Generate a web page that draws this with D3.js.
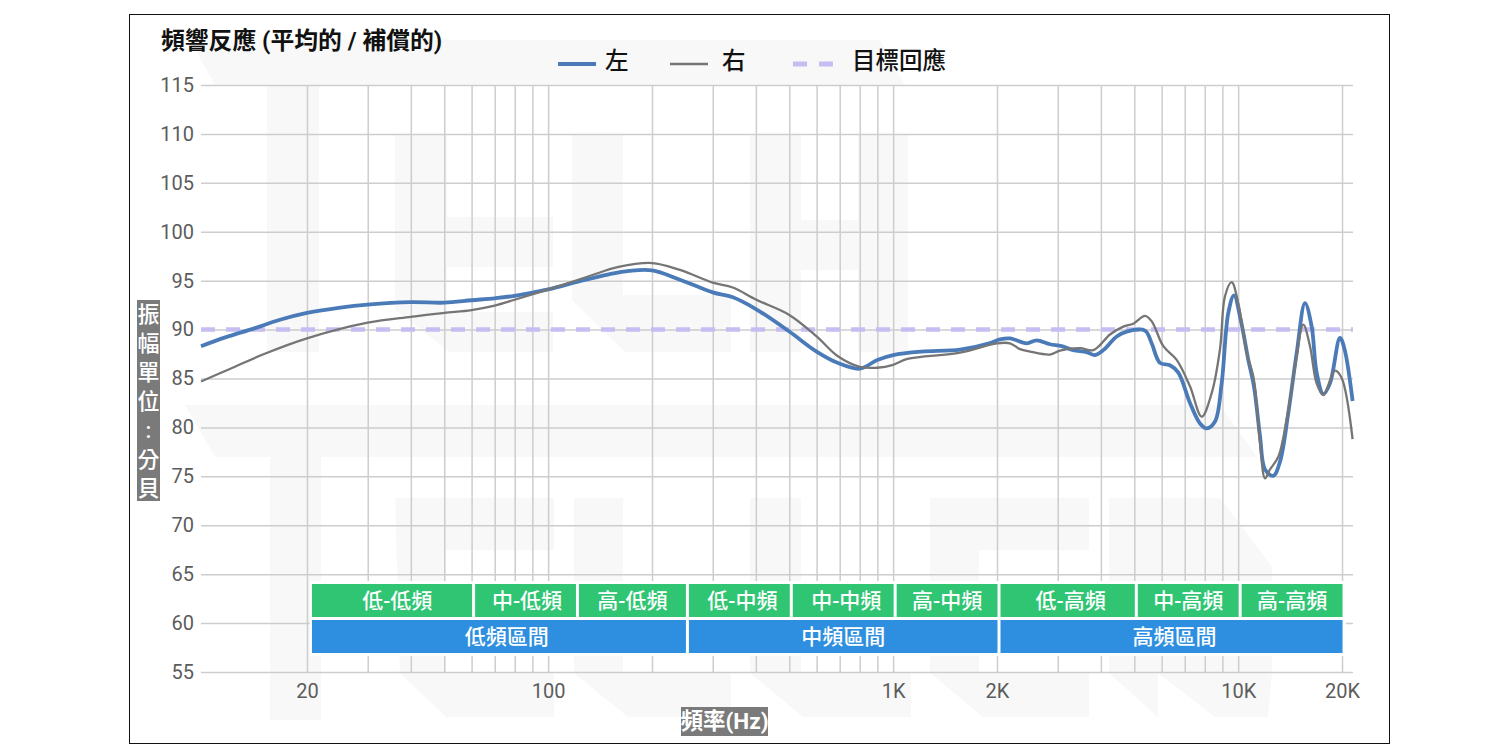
<!DOCTYPE html>
<html>
<head>
<meta charset="utf-8">
<script src="https://cdn.jsdelivr.net/npm/d3@7"></script>
<style>
  html, body { margin: 0; background: #fff; }
  svg { display: block; }
  text { font-family: Roboto, "Noto Sans CJK TC", sans-serif; }
  .axis path { display: none; }
  .axis line { stroke: #cdcdcd; stroke-width: 1.5; }
  .axis text { fill: #5c5c5c; font-size: 20px; }
</style>
</head>
<body>
<script>
// values
const leftFreq = [9.86, 11.6, 14, 16.7, 20, 25, 30, 40, 50, 60, 70, 80, 100, 125, 150, 172, 200, 241, 300, 343, 400, 500, 600, 690, 800, 900, 1000, 1206, 1563, 1900,
  2040, 2181, 2437, 2605, 2848, 3079, 3327, 3638, 3846, 4066, 4445, 4752, 5369, 5614, 5934, 6345, 6708, 7250, 7752, 8103, 8568, 8956, 9364, 9727, 10170, 10700, 11112, 11571, 11963, 12646, 13221, 13976, 14778, 15620, 16332, 16883, 17652, 18456, 19731, 20400, 21460];
const leftDb = [88.3, 89.2, 90.1, 91.0, 91.7, 92.25, 92.55, 92.8, 92.75, 93.0, 93.2, 93.45, 94.1, 95.0, 95.65, 96.0, 96.05, 95.1, 93.8, 93.3, 92.1, 89.8, 87.75, 86.6, 86.0, 86.9, 87.4, 87.75, 87.95, 88.6,
  89.0, 89.1, 88.6, 88.9, 88.5, 88.3, 87.9, 87.7, 87.4, 87.9, 89.3, 89.8, 89.9, 88.6, 86.6, 86.35, 85.6, 82.5, 80.4, 79.9, 80.6, 84.5, 91.7, 93.5, 91.0, 86.9, 84.2, 79.1, 75.7, 75.05, 76.5, 81.5, 87.6, 92.7, 90.3, 85.6, 83.4, 84.5, 89.15, 87.8, 82.7];

const rightFreq = [9.86, 12, 14.9, 20, 30, 40, 50, 60, 70, 80, 100, 130, 160, 200, 241, 300, 343, 400, 500, 600, 690, 800, 900, 1000, 1100, 1563, 2000,
  2181, 2332, 2493, 2848, 3044, 3480, 3803, 4251, 4647, 4967, 5369, 5614, 6069, 6634, 7250, 7838, 8380, 8858, 9158, 9576, 10008, 10584, 11067, 11571, 11963, 12366, 13076, 13819, 14619, 15445, 16151, 16883, 17652, 19082, 19949, 21460];
const rightDb = [84.7, 86.0, 87.45, 89.1, 90.7, 91.3, 91.7, 92.0, 92.45, 93.05, 94.1, 95.4, 96.4, 96.8, 96.1, 94.8, 94.3, 93.07, 91.5, 89.3, 87.3, 86.2, 86.1, 86.4, 87.0, 87.65, 88.6,
  88.6, 88.0, 87.75, 87.45, 87.85, 88.1, 87.9, 89.5, 90.3, 90.6, 91.4, 90.85, 88.3, 86.9, 84.2, 81.1, 83.5, 88.0, 93.4, 94.85, 92.7, 87.6, 85.2, 78.4, 74.8, 75.7, 77.0, 80.8, 86.2, 90.5, 88.3, 84.5, 83.3, 85.8, 85.05, 78.8];

const targetFreq = [9.86, 21520];
const targetDb = [90, 90];

const yTicks = [55, 60, 65, 70, 75, 80, 85, 90, 95, 100, 105, 110, 115];
const gridFreqs = [20, 30, 40, 50, 60, 70, 80, 90, 100, 200, 300, 400, 500, 600, 700, 800, 900, 1000, 2000, 3000, 4000, 5000, 6000, 7000, 8000, 9000, 10000, 20000];
const xLabels = {20: "20", 100: "100", 1000: "1K", 2000: "2K", 10000: "10K", 20000: "20K"};

const subBandNames = ["低-低頻", "中-低頻", "高-低頻", "低-中頻", "中-中頻", "高-中頻", "低-高頻", "中-高頻", "高-高頻"];
const subBandEdges = [20.4, 60, 120, 250, 500, 1000, 2000, 5000, 10000, 20000];
const bandNames = ["低頻區間", "中頻區間", "高頻區間"];
const bandEdges = [20.4, 250, 2000, 20000];

// faint watermark behind the plot
const watermark = [
  [[190, 40], [880, 40], [905, 85], [215, 85]],
  [[267, 85], [319, 85], [319, 352], [267, 352]],
  [[395, 135], [447, 135], [447, 217], [553, 217], [553, 267], [447, 267], [447, 312], [553, 312], [553, 352], [450, 352], [395, 310]],
  [[572, 135], [623, 135], [623, 295], [731, 295], [731, 352], [625, 352], [572, 300]],
  [[750, 135], [801, 135], [801, 220], [858, 220], [858, 135], [908, 135], [908, 352], [858, 352], [858, 270], [801, 270], [801, 352], [750, 352]],
  [[185, 405], [1220, 405], [1257, 457], [215, 457]],
  [[270, 457], [321, 457], [321, 720], [270, 720]],
  [[395, 498], [554, 498], [554, 550], [446, 550], [446, 673], [554, 673], [554, 717], [446, 717], [400, 673]],
  [[574, 498], [623, 498], [623, 673], [731, 673], [731, 717], [628, 717], [574, 673]],
  [[750, 498], [801, 498], [801, 673], [911, 673], [911, 717], [803, 717], [750, 673]],
  [[930, 498], [1089, 498], [1089, 550], [979, 550], [979, 673], [1089, 673], [1089, 717], [983, 717], [930, 673]],
  [[1109, 498], [1220, 498], [1272, 567], [1272, 673], [1268, 717], [1215, 717], [1158, 673], [1158, 550], [1109, 550]],
  [[1109, 550], [1158, 550], [1158, 717], [1109, 673]]
];

const W = 1512, H = 756;
const svg = d3.select("body").append("svg").attr("width", W).attr("height", H);

const x = d3.scaleLog().domain([9.86, 21520]).range([201, 1353]);
const y = d3.scaleLinear().domain([55, 115]).range([672, 85]);

svg.append("rect").attr("x", 129.5).attr("y", 14.5).attr("width", 1260).attr("height", 729)
  .attr("fill", "#fff").attr("stroke", "#111").attr("stroke-width", 1);

svg.append("g").selectAll("polygon").data(watermark).join("polygon")
  .attr("points", d => d.join(" "))
  .attr("fill", "#f8f8f8");

// axes double as the grid
svg.append("g").attr("class", "axis")
  .attr("transform", "translate(0,672)")
  .call(d3.axisBottom(x).tickValues(gridFreqs).tickSize(-587).tickPadding(12)
    .tickFormat(d => xLabels[d] || ""));
svg.append("g").attr("class", "axis")
  .attr("transform", "translate(201,0)")
  .call(d3.axisLeft(y).tickValues(yTicks).tickSize(-1152).tickPadding(7));

// frequency bands, shifted 2px off the grid as in the picture
const bands = svg.append("g").attr("transform", "translate(2,0)");
bands.append("rect")
  .attr("x", x(subBandEdges[0]) - 2).attr("y", 581)
  .attr("width", x(20000) - x(subBandEdges[0]) + 4).attr("height", 75)
  .attr("fill", "#fff");

const subNudge = [4.5, 1.5, 0, 3, 3, 0, 3, 0, 0];
const sub = bands.append("g").selectAll("g").data(subBandNames).join("g");
sub.append("rect")
  .attr("x", (d, i) => x(subBandEdges[i]) + (i ? 1.5 : 0))
  .attr("width", (d, i) => x(subBandEdges[i + 1]) - x(subBandEdges[i]) - (i ? 3 : 1.5))
  .attr("y", 584).attr("height", 33)
  .attr("fill", "#2fc573");
sub.append("text")
  .attr("x", (d, i) => (x(subBandEdges[i]) + x(subBandEdges[i + 1])) / 2 + subNudge[i])
  .attr("y", 600.5).attr("dy", "0.35em").attr("text-anchor", "middle")
  .attr("fill", "#fff").attr("font-size", 21).attr("font-weight", 500).text(d => d);

const bandNudge = [7, 0, 3];
const band = bands.append("g").selectAll("g").data(bandNames).join("g");
band.append("rect")
  .attr("x", (d, i) => x(bandEdges[i]) + (i ? 1.5 : 0))
  .attr("width", (d, i) => x(bandEdges[i + 1]) - x(bandEdges[i]) - (i ? 3 : 1.5))
  .attr("y", 620).attr("height", 33)
  .attr("fill", "#2e8fe0");
band.append("text")
  .attr("x", (d, i) => (x(bandEdges[i]) + x(bandEdges[i + 1])) / 2 + bandNudge[i])
  .attr("y", 636.5).attr("dy", "0.35em").attr("text-anchor", "middle")
  .attr("fill", "#fff").attr("font-size", 21).attr("font-weight", 500).text(d => d);

// curves
const line = d3.line()
  .x(d => x(d[0])).y(d => y(d[1]))
  .curve(d3.curveCatmullRom.alpha(0.5));

svg.append("path").datum(d3.zip(targetFreq, targetDb)).attr("d", line)
  .attr("fill", "none").attr("stroke", "#c6bef2").attr("stroke-width", 4.5).attr("stroke-dasharray", "14,11");
svg.append("path").datum(d3.zip(leftFreq, leftDb)).attr("d", line)
  .attr("fill", "none").attr("stroke", "#4a7bb8").attr("stroke-width", 3.8);
svg.append("path").datum(d3.zip(rightFreq, rightDb)).attr("d", line)
  .attr("fill", "none").attr("stroke", "#757575").attr("stroke-width", 2.3);

// title
svg.append("text").attr("x", 161).attr("y", 49).attr("font-size", 23.8).attr("font-weight", 700)
  .attr("fill", "#111").text("頻響反應 (平均的 / 補償的)");

// legend
const legend = svg.append("g").attr("font-size", 23.5).attr("font-weight", 500).attr("fill", "#111");
legend.append("line").attr("x1", 558).attr("x2", 596).attr("y1", 64).attr("y2", 64)
  .attr("stroke", "#4a7bb8").attr("stroke-width", 4);
legend.append("text").attr("x", 605).attr("y", 69).text("左");
legend.append("line").attr("x1", 670).attr("x2", 708).attr("y1", 64).attr("y2", 64)
  .attr("stroke", "#757575").attr("stroke-width", 2.3);
legend.append("text").attr("x", 722).attr("y", 69).text("右");
legend.append("line").attr("x1", 793).attr("x2", 834).attr("y1", 64).attr("y2", 64)
  .attr("stroke", "#c6bef2").attr("stroke-width", 5).attr("stroke-dasharray", "14,12");
legend.append("text").attr("x", 852).attr("y", 69).text("目標回應");

// axis titles sit on grey boxes
svg.append("rect").attr("x", 137).attr("y", 300).attr("width", 23).attr("height", 201).attr("fill", "#7a7a7a");
svg.append("g").selectAll("text").data(Array.from("振幅單位:分貝")).join("text")
  .attr("x", 148.5).attr("y", (d, i) => 314 + i * 29).attr("dy", "0.35em")
  .attr("text-anchor", "middle").attr("font-size", 22).attr("font-weight", 500).attr("fill", "#fff").text(d => d);

svg.append("rect").attr("x", 681).attr("y", 707).attr("width", 87).attr("height", 29).attr("fill", "#7a7a7a");
svg.append("text").attr("x", 724.5).attr("y", 721).attr("dy", "0.35em").attr("text-anchor", "middle")
  .attr("font-size", 22.5).attr("font-weight", 700).attr("fill", "#fff").text("頻率(Hz)");
</script>
</body>
</html>
